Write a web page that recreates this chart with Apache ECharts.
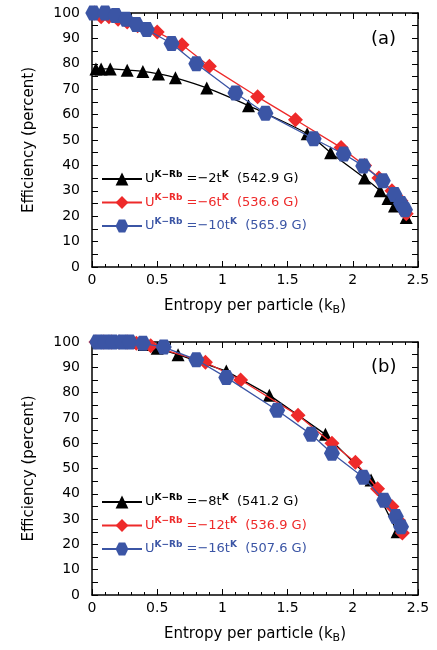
<!DOCTYPE html>
<html>
<head>
<meta charset="utf-8">
<script src="https://cdn.jsdelivr.net/npm/echarts@6/dist/echarts.min.js"></script>
<style>
  html, body { margin: 0; padding: 0; background: #fff; }
  #chart { width: 437px; height: 650px; }
</style>
</head>
<body>
<div id="chart"></div>
<script>
// panel (a): entropy (k_B), efficiency (percent)
var aBlack = [[0.03, 78], [0.07, 78], [0.14, 78], [0.27, 77.5], [0.39, 77], [0.51, 76], [0.64, 74.5],
  [0.88, 70.5], [1.2, 63.5], [1.65, 52.5], [1.83, 45], [2.09, 35], [2.21, 30], [2.27, 27], [2.32, 24], [2.41, 19.5]];
var aRed = [[0.02, 100], [0.07, 98.5], [0.13, 98.5], [0.2, 97.5], [0.27, 96.5], [0.35, 95], [0.43, 93.5],
  [0.5, 92.5], [0.69, 87.5], [0.9, 79], [1.27, 67], [1.56, 58], [1.91, 47], [2.09, 40], [2.2, 35],
  [2.3, 30], [2.37, 26], [2.41, 21]];
var aBlue = [[0.01, 100], [0.1, 100], [0.18, 99], [0.26, 97.5], [0.34, 95.5], [0.42, 93.5], [0.61, 88],
  [0.8, 80], [1.1, 68.5], [1.33, 60.5], [1.7, 50.5], [1.93, 44.5], [2.08, 39.8], [2.23, 34],
  [2.32, 28.5], [2.37, 25], [2.4, 22.5]];

// panel (b)
var bBlack = [[0.05, 100], [0.12, 100], [0.19, 100], [0.25, 100], [0.31, 99.8], [0.4, 99], [0.5, 97.5],
  [0.66, 95], [1.03, 88.5], [1.36, 79], [1.79, 63.5], [2.14, 45.5], [2.34, 25]];
var bRed = [[0.03, 100], [0.09, 100], [0.15, 100], [0.21, 100], [0.27, 100], [0.34, 99.5], [0.45, 98.5],
  [0.87, 92], [1.14, 85], [1.58, 71], [1.84, 60], [2.02, 52.5], [2.19, 42], [2.3, 35], [2.35, 29.5],
  [2.38, 24.5]];
var bBlue = [[0.04, 100], [0.1, 100], [0.16, 100], [0.23, 100], [0.29, 100], [0.39, 99.5], [0.55, 98],
  [0.8, 93], [1.03, 86], [1.42, 73], [1.68, 63.5], [1.84, 56], [2.08, 46.5], [2.24, 37.5],
  [2.33, 31], [2.37, 27]];

var aCoupling = ["2", "6", "10"];
var aField = ["542.9", "536.6", "565.9"];
var bCoupling = ["8", "12", "16"];
var bField = ["541.2", "536.9", "507.6"];

var BLACK = "#000000";
var RED = "#ee2a2a";
var BLUE = "#3b55a5";
var FONT = "DejaVu Sans";
var HEX = "path://M0,5L2.9,0L8.7,0L11.6,5L8.7,10L2.9,10Z";

var chart = echarts.init(document.getElementById("chart"), null, { renderer: "canvas" });

var grids = [
  { left: 92, right: 19, top: 13, height: 254 },
  { left: 92, right: 19, top: 342, height: 253 }
];

function xAxis(grid, pos) {
  var bottom = pos === "bottom";
  return {
    type: "value", gridIndex: grid, position: pos, min: 0, max: 2.5, interval: 0.5,
    name: bottom ? "Entropy per particle ({s|k}{sub|B})" : "",
    nameLocation: "middle", nameGap: 30,
    nameTextStyle: {
      color: "#000", fontFamily: FONT, fontSize: 15,
      rich: {
        s: { fontFamily: FONT, fontSize: 15, color: "#000" },
        sub: { fontFamily: FONT, fontSize: 11, color: "#000", verticalAlign: "bottom", padding: [8, 0, 0, 0] }
      }
    },
    axisLine: { onZero: false, lineStyle: { color: "#000", width: 1.5 } },
    axisTick: { show: true, inside: true, length: 6, lineStyle: { color: "#000" } },
    minorTick: { show: true, splitNumber: 5, length: 3, lineStyle: { color: "#000" } },
    axisLabel: { show: bottom, color: "#000", fontFamily: FONT, fontSize: 14, margin: 6 },
    splitLine: { show: false }
  };
}

function yAxis(grid, pos) {
  var left = pos === "left";
  return {
    type: "value", gridIndex: grid, position: pos, min: 0, max: 100, interval: 10,
    name: left ? "Efficiency (percent)" : "",
    nameLocation: "middle", nameGap: 55, nameRotate: 90,
    nameTextStyle: { color: "#000", fontFamily: FONT, fontSize: 15 },
    axisLine: { onZero: false, lineStyle: { color: "#000", width: 1.5 } },
    axisTick: { show: true, inside: true, length: 6, lineStyle: { color: "#000" } },
    minorTick: { show: true, splitNumber: 2, length: 6, lineStyle: { color: "#000" } },
    axisLabel: { show: left, color: "#000", fontFamily: FONT, fontSize: 14, margin: 12 },
    splitLine: { show: false }
  };
}

function line(name, data, xi, yi, color, symbol, size, smooth, z) {
  return {
    name: name, type: "line", xAxisIndex: xi, yAxisIndex: yi, data: data,
    symbol: symbol, symbolSize: size, smooth: smooth, z: z,
    lineStyle: { color: color, width: 1.3 },
    itemStyle: { color: color },
    emphasis: { disabled: true }, animation: false
  };
}

var richBase = {
  k: { color: BLACK, fontFamily: FONT, fontSize: 13, lineHeight: 18 },
  ks: { color: BLACK, fontFamily: FONT, fontSize: 9, fontWeight: "bold", verticalAlign: "top", lineHeight: 10 },
  r: { color: RED, fontFamily: FONT, fontSize: 13, lineHeight: 18 },
  rs: { color: RED, fontFamily: FONT, fontSize: 9, fontWeight: "bold", verticalAlign: "top", lineHeight: 10 },
  b: { color: BLUE, fontFamily: FONT, fontSize: 13, lineHeight: 18 },
  bs: { color: BLUE, fontFamily: FONT, fontSize: 9, fontWeight: "bold", verticalAlign: "top", lineHeight: 10 }
};

function legendText(st, c, f) {
  return "{" + st + "|U}{" + st + "s|K\u2212Rb}{" + st + "| =\u2212" + c + "t}{" + st + "s|K}{" + st + "|  (" + f + " G)}";
}

var styles = ["k", "r", "b"];
var namesA = ["a0", "a1", "a2"];
var namesB = ["b0", "b1", "b2"];

function legend(names, coupling, field, top) {
  return {
    orient: "vertical", left: 96, top: top, itemGap: 8, itemWidth: 40, itemHeight: 16,
    selectedMode: false,
    data: names,
    formatter: function (name) {
      var i = names.indexOf(name);
      return legendText(styles[i], coupling[i], field[i]);
    },
    textStyle: { rich: richBase, padding: [0, 0, 0, -2] }
  };
}

chart.setOption({
  animation: false,
  grid: grids,
  xAxis: [xAxis(0, "bottom"), xAxis(0, "top"), xAxis(1, "bottom"), xAxis(1, "top")],
  yAxis: [yAxis(0, "left"), yAxis(0, "right"), yAxis(1, "left"), yAxis(1, "right")],
  legend: [legend(namesA, aCoupling, aField, 165), legend(namesB, bCoupling, bField, 488)],
  graphic: [
    { type: "text", left: 371, top: 30, style: { text: "(a)", fontFamily: FONT, fontSize: 18, fill: "#000" } },
    { type: "text", left: 371, top: 358, style: { text: "(b)", fontFamily: FONT, fontSize: 18, fill: "#000" } }
  ],
  series: [
    line("a0", aBlack, 0, 0, BLACK, "triangle", 13, 0.3, 2),
    line("a1", aRed, 0, 0, RED, "diamond", 15, false, 3),
    line("a2", aBlue, 0, 0, BLUE, HEX, [16, 15], false, 4),
    line("b0", bBlack, 2, 2, BLACK, "triangle", 13, false, 2),
    line("b1", bRed, 2, 2, RED, "diamond", 15, false, 3),
    line("b2", bBlue, 2, 2, BLUE, HEX, [16, 15], false, 4)
  ]
});
</script>
</body>
</html>
